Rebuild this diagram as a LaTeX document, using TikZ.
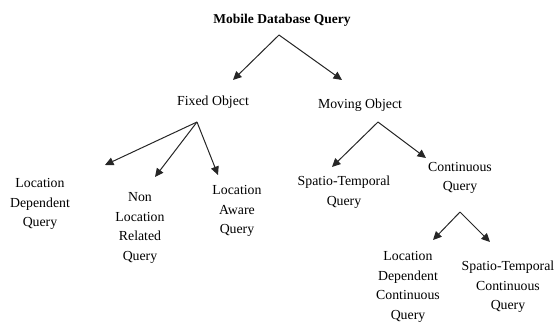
\documentclass[tikz,border=0pt]{standalone}
\usepackage{fontspec}
\setmainfont{Liberation Serif}
\usetikzlibrary{arrows.meta}
\begin{document}
\begin{tikzpicture}[x=1pt,y=1pt,
  lbl/.style={align=center,inner sep=0pt,font=\fontsize{13.8}{19.6}\selectfont},
  ttl/.style={inner sep=0pt,font=\fontsize{13.5}{16}\selectfont\bfseries},
  arr/.style={draw=black!85,line width=1pt,-{Triangle[length=8.5pt,width=8pt]}}]
\useasboundingbox (0,0) rectangle (555,-322);
\node[ttl] (title) at (282,-20) {Mobile Database Query};
\node[lbl] (fixed) at (213,-102) {Fixed Object};
\node[lbl] (moving) at (360,-105) {Moving Object};
\node[lbl] (ldq) at (40,-204) {Location\\Dependent\\Query};
\node[lbl] (nlrq) at (140,-228) {Non\\Location\\Related\\Query};
\node[lbl] (laq) at (237,-211) {Location\\Aware\\Query};
\node[lbl] (stq) at (344,-192) {Spatio-Temporal\\Query};
\node[lbl] (cq) at (460,-178) {Continuous\\Query};
\node[lbl] (ldcq) at (408,-287) {Location\\Dependent\\Continuous\\Query};
\node[lbl] (stcq) at (508,-287) {Spatio-Temporal\\Continuous\\Query};
% apexes and tips
\coordinate (a0) at (279,-35);
\coordinate (t0a) at (233,-80);
\coordinate (t0b) at (342,-80);
\coordinate (a1) at (197,-122);
\coordinate (t1a) at (105,-165);
\coordinate (t1b) at (155,-177);
\coordinate (t1c) at (218,-175);
\coordinate (a2) at (378,-122);
\coordinate (t2a) at (332,-167);
\coordinate (t2b) at (426,-158);
\coordinate (a3) at (460,-212);
\coordinate (t3a) at (433,-240);
\coordinate (t3b) at (490,-242);
\draw[arr] (a0) -- (t0a);
\draw[arr] (a0) -- (t0b);
\draw[arr] (a1) -- (t1a);
\draw[arr] (a1) -- (t1b);
\draw[arr] (a1) -- (t1c);
\draw[arr] (a2) -- (t2a);
\draw[arr] (a2) -- (t2b);
\draw[arr] (a3) -- (t3a);
\draw[arr] (a3) -- (t3b);
\end{tikzpicture}
\end{document}
